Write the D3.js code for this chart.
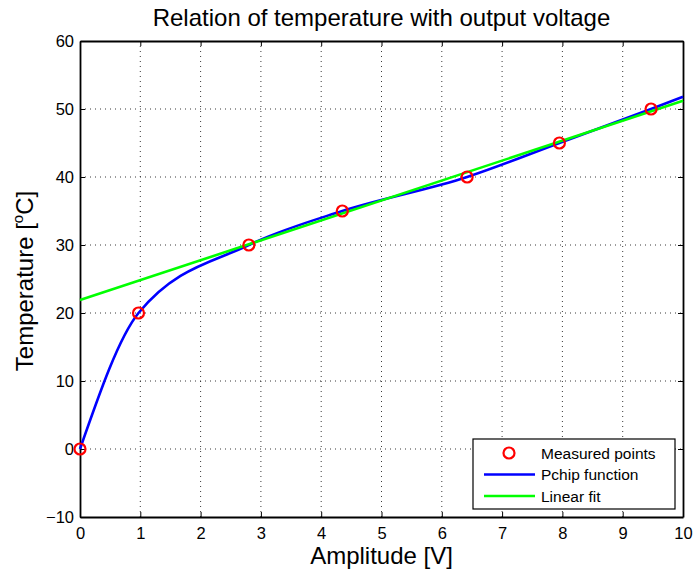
<!DOCTYPE html>
<html>
<head>
<meta charset="utf-8">
<script src="https://cdn.jsdelivr.net/npm/d3@7"></script>
<style>
  body { margin: 0; background: #fff; }
  text { font-family: "Liberation Sans", Arial, Helvetica, sans-serif; fill: #000; }
</style>
</head>
<body>
<script>
// measured points
const measuredX = [0, 0.97, 2.8, 4.35, 6.42, 7.95, 9.47];
const measuredY = [0, 20, 30, 35, 40, 45, 50];
// pchip curve goes through the points, end value at x=10
const pchipX = [0, 0.97, 2.8, 4.35, 6.42, 7.95, 9.47, 10];
const pchipY = [0, 20, 30, 35, 40, 45, 50, 51.8];
// linear fit end points
const fitX = [0, 10];
const fitY = [21.9, 51.2];

const xTicks = [0, 1, 2, 3, 4, 5, 6, 7, 8, 9, 10];
const yTicks = [-10, 0, 10, 20, 30, 40, 50, 60];
const legendLabels = ["Measured points", "Pchip function", "Linear fit"];

var width = 695,
    height = 571,
    margin = {top: 41, right: 12, bottom: 54, left: 80};

const svg = d3.select("body").append("svg")
              .attr("width", width)
              .attr("height", height);

const x = d3.scaleLinear().domain([0, 10]).range([margin.left, width - margin.right]);
const y = d3.scaleLinear().domain([-10, 60]).range([height - margin.bottom, margin.top]);

// grid
const grid = svg.append("g")
                .attr("stroke", "#222")
                .attr("stroke-width", 0.9)
                .attr("stroke-dasharray", "1,4");
grid.selectAll(".gx").data(xTicks.slice(1, -1)).enter().append("line")
    .attr("x1", d => x(d)).attr("x2", d => x(d))
    .attr("y1", y(-10)).attr("y2", y(60));
grid.selectAll(".gy").data(yTicks.slice(1, -1)).enter().append("line")
    .attr("y1", d => y(d)).attr("y2", d => y(d))
    .attr("x1", x(0)).attr("x2", x(10));

// axes, ticks pointing inward like matlab
const fmt = d => d < 0 ? "\u2212" + Math.abs(d) : d;
svg.append("g")
   .attr("transform", "translate(0," + y(-10) + ")")
   .call(d3.axisBottom(x).tickValues(xTicks).tickSizeInner(-5).tickSizeOuter(0).tickPadding(10))
   .call(g => g.selectAll("text").attr("font-size", 16.5));
svg.append("g")
   .attr("transform", "translate(0," + y(60) + ")")
   .call(d3.axisTop(x).tickValues(xTicks).tickSizeInner(-5).tickSizeOuter(0).tickFormat(""));
svg.append("g")
   .attr("transform", "translate(" + x(0) + ",0)")
   .call(d3.axisLeft(y).tickValues(yTicks).tickSizeInner(-5).tickSizeOuter(0).tickPadding(6).tickFormat(fmt))
   .call(g => g.selectAll("text").attr("font-size", 16.5));
svg.append("g")
   .attr("transform", "translate(" + x(10) + ",0)")
   .call(d3.axisRight(y).tickValues(yTicks).tickSizeInner(-5).tickSizeOuter(0).tickFormat(""));
svg.selectAll(".domain").attr("stroke-width", 1.8);
svg.selectAll(".tick line").attr("stroke-width", 1);

// lines
const line = d3.line()
               .x(d => x(d[0]))
               .y(d => y(d[1]));

svg.append("path")
   .datum(pchipX.map((d, i) => [d, pchipY[i]]))
   .attr("fill", "none")
   .attr("stroke", "#0000ff")
   .attr("stroke-width", 2.6)
   .attr("d", line.curve(d3.curveMonotoneX));

svg.append("path")
   .datum(fitX.map((d, i) => [d, fitY[i]]))
   .attr("fill", "none")
   .attr("stroke", "#00ff00")
   .attr("stroke-width", 2.6)
   .attr("d", line.curve(d3.curveLinear));

svg.selectAll(".pt").data(measuredX).enter().append("circle")
   .attr("cx", d => x(d))
   .attr("cy", (d, i) => y(measuredY[i]))
   .attr("r", 5.5)
   .attr("fill", "none")
   .attr("stroke", "#ff0000")
   .attr("stroke-width", 2.2);

// title and labels
svg.append("text")
   .attr("x", (x(0) + x(10)) / 2)
   .attr("y", 26)
   .attr("text-anchor", "middle")
   .attr("font-size", 24)
   .text("Relation of temperature with output voltage");

svg.append("text")
   .attr("x", (x(0) + x(10)) / 2)
   .attr("y", 564)
   .attr("text-anchor", "middle")
   .attr("font-size", 24)
   .text("Amplitude [V]");

const yl = svg.append("text")
   .attr("transform", "translate(33," + ((y(-10) + y(60)) / 2 + 2) + ") rotate(-90)")
   .attr("text-anchor", "middle")
   .attr("font-size", 24);
yl.append("tspan").text("Temperature [");
yl.append("tspan").attr("font-size", 15).attr("dy", -10).text("o");
yl.append("tspan").attr("dy", 10).text("C]");

// legend
const lg = svg.append("g").attr("transform", "translate(473,439)");
lg.append("rect")
  .attr("width", 202).attr("height", 70)
  .attr("fill", "#fff").attr("stroke", "#000").attr("stroke-width", 1.2);
const rowY = d3.scalePoint().domain(legendLabels).range([14, 57]);
lg.append("circle")
  .attr("cx", 36).attr("cy", rowY(legendLabels[0]))
  .attr("r", 5.5).attr("fill", "none").attr("stroke", "#ff0000").attr("stroke-width", 2.2);
lg.append("line")
  .attr("x1", 11).attr("x2", 62)
  .attr("y1", rowY(legendLabels[1])).attr("y2", rowY(legendLabels[1]))
  .attr("stroke", "#0000ff").attr("stroke-width", 2.6);
lg.append("line")
  .attr("x1", 11).attr("x2", 62)
  .attr("y1", rowY(legendLabels[2])).attr("y2", rowY(legendLabels[2]))
  .attr("stroke", "#00ff00").attr("stroke-width", 2.6);
lg.selectAll(".lt").data(legendLabels).enter().append("text")
  .attr("x", 68)
  .attr("y", d => rowY(d) + 5.5)
  .attr("font-size", 15.5)
  .text(d => d);
</script>
</body>
</html>
